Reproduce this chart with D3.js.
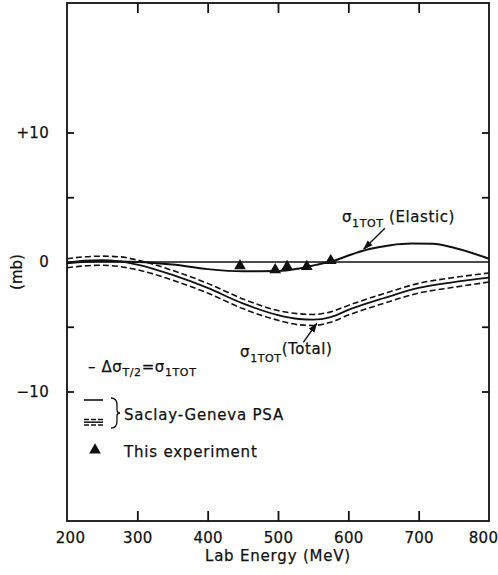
<!DOCTYPE html>
<html>
<head>
<meta charset="utf-8">
<script src="https://cdn.jsdelivr.net/npm/d3@7"></script>
<style>
  body { margin: 0; background: #fff; }
  svg text { font-family: "DejaVu Sans", sans-serif; fill: #111; stroke: #111; stroke-width: 0.25px; }
  .tick text { font-size: 15px; letter-spacing: 0.3px; }
</style>
</head>
<body>
<div class="graph_container"></div>
<script>
// ^ DATA //
const energyTotal = [200, 225, 250, 275, 300, 350, 400, 450, 500, 530, 550, 575, 600, 650, 700, 750, 800];
const totalMid   = [-0.05, 0.1, 0.15, 0.05, -0.2, -1.0, -2.0, -3.2, -4.1, -4.4, -4.45, -4.25, -3.7, -2.8, -2.0, -1.55, -1.2];
const totalUpper = [0.25, 0.4, 0.45, 0.4, 0.15, -0.65, -1.65, -2.85, -3.75, -4.0, -4.05, -3.85, -3.35, -2.45, -1.65, -1.2, -0.85];
const totalLower = [-0.45, -0.3, -0.25, -0.35, -0.6, -1.4, -2.4, -3.6, -4.5, -4.85, -4.9, -4.65, -4.1, -3.2, -2.4, -1.95, -1.55];

const energyElastic = [200, 250, 300, 350, 400, 450, 500, 530, 560, 580, 600, 630, 660, 690, 720, 750, 800];
const elastic = [-0.1, 0.05, 0.0, -0.2, -0.55, -0.72, -0.7, -0.5, -0.15, 0.1, 0.5, 1.0, 1.3, 1.42, 1.4, 1.1, 0.25];

const expEnergy = [446, 496, 513, 541, 575];
const expValue = [-0.3, -0.6, -0.35, -0.35, 0.1];

const xTicks = [200, 300, 400, 500, 600, 700, 800];
const yMarks = [-10, -5, 5, 10];
const yLabels = [10, 0, -10];

// ^ SCALES //
const W = 498, H = 575;
const x = d3.scaleLinear().domain([200, 800]).range([67, 489]);
const y = d3.scaleLinear().domain([-20, 20]).range([521, 3]);

const svg = d3.select(".graph_container").append("svg").attr("width", W).attr("height", H);

// ^ AXES //
svg.append("g").attr("transform", "translate(0,521)")
  .call(d3.axisBottom(x).tickValues(xTicks.slice(1, -1)).tickSize(-10).tickFormat(""));
const xLab = svg.append("g").attr("transform", "translate(0,521)")
  .call(d3.axisBottom(x).tickValues(xTicks).tickSize(0).tickPadding(11).tickFormat(d3.format("d")));
// keep the end labels inside the window, as in the print
xLab.selectAll(".tick text").attr("dx", d => d === 800 ? -6 : d === 200 ? 3 : 0);
svg.append("g").attr("transform", "translate(0,3)")
  .call(d3.axisTop(x).tickValues(xTicks.slice(1, -1)).tickSize(-10).tickFormat(""));
svg.append("g").attr("transform", "translate(67,0)")
  .call(d3.axisLeft(y).tickValues(yMarks).tickSize(-7).tickFormat(""));
svg.append("g").attr("transform", "translate(67,0)")
  .call(d3.axisLeft(y).tickValues(yLabels).tickSize(0).tickPadding(18)
    .tickFormat(d => d > 0 ? "+" + d : d < 0 ? "\u2212" + Math.abs(d) : "0"));
svg.append("g").attr("transform", "translate(489,0)")
  .call(d3.axisRight(y).tickValues(yMarks).tickSize(-7).tickFormat(""));

svg.selectAll(".domain").remove();
svg.selectAll(".tick line").attr("stroke", "#111").attr("stroke-width", 1.8);

// frame
svg.append("rect").attr("x", x(200)).attr("y", y(20))
  .attr("width", x(800) - x(200)).attr("height", y(-20) - y(20))
  .attr("fill", "none").attr("stroke", "#111").attr("stroke-width", 1.8);

// zero line
svg.append("line").attr("x1", x(200)).attr("x2", x(800)).attr("y1", y(0)).attr("y2", y(0))
  .attr("stroke", "#111").attr("stroke-width", 1.4);

// axis titles
svg.append("text").attr("x", 278).attr("y", 561).attr("text-anchor", "middle")
  .style("font-size", "15px").style("letter-spacing", "0.8px").text("Lab Energy (MeV)");
svg.append("text").attr("transform", "translate(22,272) rotate(-90)").attr("text-anchor", "middle")
  .style("font-size", "15px").text("(mb)");

// ^ CURVES //
const line = (xs, ys) => d3.line().curve(d3.curveMonotoneX)
  .x((d, i) => x(xs[i])).y(d => y(d))(ys);

svg.append("path").attr("d", line(energyTotal, totalUpper))
  .attr("fill", "none").attr("stroke", "#111").attr("stroke-width", 1.6).attr("stroke-dasharray", "6,3");
svg.append("path").attr("d", line(energyTotal, totalLower))
  .attr("fill", "none").attr("stroke", "#111").attr("stroke-width", 1.6).attr("stroke-dasharray", "6,3");
svg.append("path").attr("d", line(energyTotal, totalMid))
  .attr("fill", "none").attr("stroke", "#111").attr("stroke-width", 1.8);
svg.append("path").attr("d", line(energyElastic, elastic))
  .attr("fill", "none").attr("stroke", "#111").attr("stroke-width", 2);

// experiment points
const tri = d3.symbol().type(d3.symbolTriangle).size(60);
svg.selectAll(".exp").data(expEnergy).join("path")
  .attr("class", "exp")
  .attr("transform", (d, i) => `translate(${x(d)},${y(expValue[i])})`)
  .attr("d", tri).attr("fill", "#111");

// ^ ANNOTATIONS //
svg.append("defs").append("marker").attr("id", "arr")
  .attr("viewBox", "0 0 10 10").attr("refX", 9).attr("refY", 5)
  .attr("markerWidth", 7).attr("markerHeight", 7).attr("orient", "auto")
  .append("path").attr("d", "M0,1.5L10,5L0,8.5Z").attr("fill", "#111");

const arrow = (e0, v0, e1, v1) => svg.append("line")
  .attr("x1", x(e0)).attr("y1", y(v0)).attr("x2", x(e1)).attr("y2", y(v1))
  .attr("stroke", "#111").attr("stroke-width", 1.4).attr("marker-end", "url(#arr)");
arrow(652, 2.6, 622, 1.0);
arrow(536, -6.2, 555, -4.75);

const sigmaLabel = (e, v, tail) => {
  const t = svg.append("text").attr("x", x(e)).attr("y", y(v))
    .style("font-size", "15px").style("letter-spacing", "0.6px");
  t.append("tspan").text("\u03c3");
  t.append("tspan").attr("dy", 5).style("font-size", "11px").text("1TOT");
  t.append("tspan").attr("dy", tail.dy).text(tail.text);
};
sigmaLabel(591, 3.1, { dy: -5, text: " (Elastic)" });
sigmaLabel(446, -7.35, { dy: -8, text: "(Total)" });

// ^ LEGEND //
const lg = svg.append("g");
const l1 = lg.append("text").attr("x", 88).attr("y", 372)
  .style("font-size", "15px").style("letter-spacing", "0.6px");
l1.append("tspan").text("\u2013 \u0394\u03c3");
l1.append("tspan").attr("dy", 4).style("font-size", "11px").text("T/2");
l1.append("tspan").attr("dy", -4).text("=\u03c3");
l1.append("tspan").attr("dy", 4).style("font-size", "11px").text("1TOT");

lg.append("line").attr("x1", 84).attr("x2", 103).attr("y1", 400).attr("y2", 400)
  .attr("stroke", "#111").attr("stroke-width", 1.6);
[419.5, 425].forEach(yy => lg.append("line").attr("x1", 84).attr("x2", 103).attr("y1", yy).attr("y2", yy)
  .attr("stroke", "#111").attr("stroke-width", 1.5).attr("stroke-dasharray", "5,2"));
lg.append("line").attr("x1", 84).attr("x2", 103).attr("y1", 422.2).attr("y2", 422.2)
  .attr("stroke", "#111").attr("stroke-width", 1.5);
lg.append("path").attr("d", "M111,398 Q117,398 117,405 L117,410 Q117,413 120,413 Q117,413 117,416 L117,421 Q117,428 111,428")
  .attr("fill", "none").attr("stroke", "#111").attr("stroke-width", 1.3);
lg.append("text").attr("x", 124).attr("y", 420)
  .style("font-size", "15px").style("letter-spacing", "0.8px").text("Saclay-Geneva PSA");

lg.append("path").attr("transform", "translate(95,450)").attr("d", tri).attr("fill", "#111");
lg.append("text").attr("x", 124).attr("y", 457)
  .style("font-size", "15px").style("letter-spacing", "0.8px").text("This experiment");
</script>
</body>
</html>
